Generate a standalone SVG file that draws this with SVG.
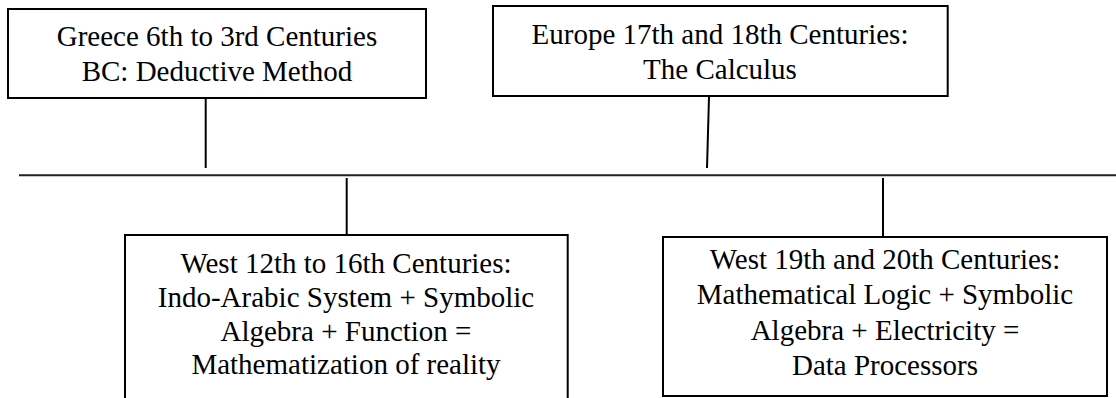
<svg xmlns="http://www.w3.org/2000/svg" width="1116" height="398" viewBox="0 0 1116 398">
<style>
.box{fill:#fff;stroke:#000;stroke-width:2}
.t{font-family:'Liberation Serif','Times New Roman',serif;font-size:29px;fill:#000;text-anchor:middle}
.c{stroke:#000;stroke-width:2;fill:none}
.h{stroke:#222;stroke-width:2;fill:none}
</style>
<rect width="1116" height="398" fill="#fff"/>
<g id="connectors">
<line class="h" x1="19" y1="175.3" x2="1116" y2="175.3"/>
<line class="c" x1="205.7" y1="93" x2="205.7" y2="168"/>
<line class="c" x1="709" y1="97" x2="707" y2="168"/>
<line class="c" x1="346.7" y1="178" x2="346.7" y2="235"/>
<line class="c" x1="883" y1="178" x2="883" y2="237"/>
</g>
<g id="greece">
<rect class="box" x="8" y="9" width="418" height="89"/>
<text class="t" x="217" y="46">Greece 6th to 3rd Centuries</text>
<text class="t" x="217" y="81">BC: Deductive Method</text>
</g>
<g id="europe">
<rect class="box" x="493" y="6" width="454.7" height="90"/>
<text class="t" x="720" y="44">Europe 17th and 18th Centuries:</text>
<text class="t" x="720" y="79">The Calculus</text>
</g>
<g id="west12">
<rect class="box" x="125" y="235" width="442.7" height="175"/>
<text class="t" x="346" y="273">West 12th to 16th Centuries:</text>
<text class="t" x="346" y="307">Indo-Arabic System + Symbolic</text>
<text class="t" x="346" y="341">Algebra + Function =</text>
<text class="t" x="346" y="374">Mathematization of reality</text>
</g>
<g id="west19">
<rect class="box" x="663" y="237" width="444" height="159"/>
<text class="t" x="885" y="269">West 19th and 20th Centuries:</text>
<text class="t" x="885" y="304">Mathematical Logic + Symbolic</text>
<text class="t" x="885" y="340">Algebra + Electricity =</text>
<text class="t" x="885" y="375">Data Processors</text>
</g>
</svg>
